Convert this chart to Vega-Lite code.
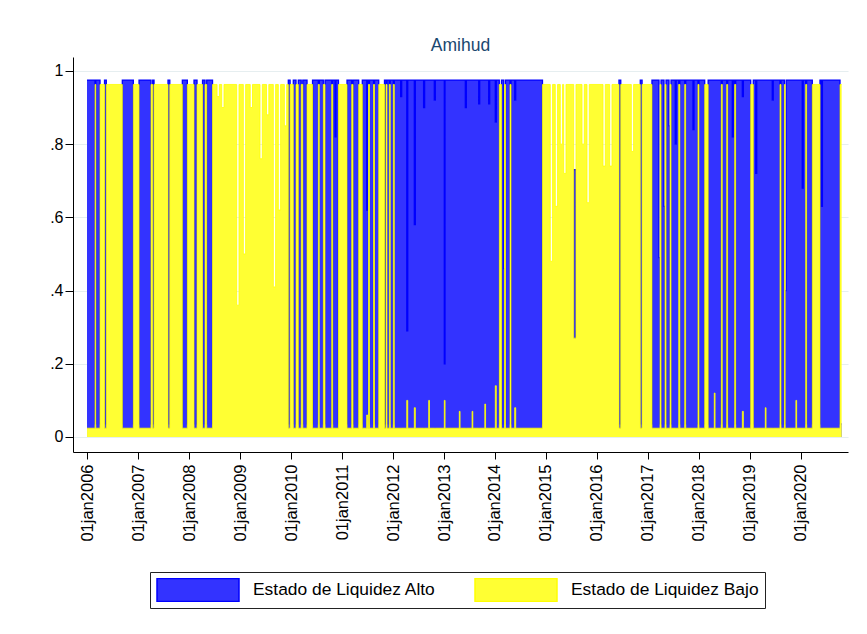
{
  "$schema": "https://vega.github.io/schema/vega-lite/v6.json",
  "autosize": "none",
  "width": 775,
  "height": 395,
  "padding": {"left": 73, "top": 57, "right": 19, "bottom": 182},
  "background": "white",
  "config": {
    "view": {"stroke": null},
    "font": "Liberation Sans"
  },
  "title": {"text": "Amihud", "fontSize": 17.5, "font": "Liberation Sans", "fontWeight": "normal", "color": "#1a476f", "anchor": "middle", "offset": 3},
  "data": {"values": [
    {"fecha": 2006.000, "alto": 0.975, "bajo": 0.024},
    {"fecha": 2006.157, "alto": 0.036, "bajo": 0.963},
    {"fecha": 2006.172, "alto": 0.975, "bajo": 0.024},
    {"fecha": 2006.255, "alto": 0.036, "bajo": 0.963},
    {"fecha": 2006.343, "alto": 0.975, "bajo": 0.024},
    {"fecha": 2006.378, "alto": 0.036, "bajo": 0.963},
    {"fecha": 2006.692, "alto": 0.975, "bajo": 0.024},
    {"fecha": 2006.908, "alto": 0.036, "bajo": 0.963},
    {"fecha": 2007.020, "alto": 0.975, "bajo": 0.024},
    {"fecha": 2007.255, "alto": 0.036, "bajo": 0.963},
    {"fecha": 2007.288, "alto": 0.975, "bajo": 0.024},
    {"fecha": 2007.314, "alto": 0.036, "bajo": 0.963},
    {"fecha": 2007.588, "alto": 0.975, "bajo": 0.024},
    {"fecha": 2007.623, "alto": 0.036, "bajo": 0.963},
    {"fecha": 2007.869, "alto": 0.975, "bajo": 0.024},
    {"fecha": 2007.967, "alto": 0.036, "bajo": 0.963},
    {"fecha": 2008.098, "alto": 0.975, "bajo": 0.024},
    {"fecha": 2008.157, "alto": 0.036, "bajo": 0.963},
    {"fecha": 2008.265, "alto": 0.975, "bajo": 0.024},
    {"fecha": 2008.314, "alto": 0.036, "bajo": 0.963},
    {"fecha": 2008.347, "alto": 0.975, "bajo": 0.024},
    {"fecha": 2008.461, "alto": 0.036, "bajo": 0.963},
    {"fecha": 2008.550, "alto": 0.036, "bajo": 0.93},
    {"fecha": 2008.595, "alto": 0.036, "bajo": 0.963},
    {"fecha": 2008.641, "alto": 0.036, "bajo": 0.90},
    {"fecha": 2008.686, "alto": 0.036, "bajo": 0.963},
    {"fecha": 2008.935, "alto": 0.036, "bajo": 0.36},
    {"fecha": 2008.980, "alto": 0.036, "bajo": 0.963},
    {"fecha": 2009.065, "alto": 0.036, "bajo": 0.50},
    {"fecha": 2009.110, "alto": 0.036, "bajo": 0.963},
    {"fecha": 2009.200, "alto": 0.036, "bajo": 0.90},
    {"fecha": 2009.245, "alto": 0.036, "bajo": 0.963},
    {"fecha": 2009.392, "alto": 0.036, "bajo": 0.76},
    {"fecha": 2009.437, "alto": 0.036, "bajo": 0.963},
    {"fecha": 2009.520, "alto": 0.036, "bajo": 0.88},
    {"fecha": 2009.565, "alto": 0.036, "bajo": 0.963},
    {"fecha": 2009.653, "alto": 0.036, "bajo": 0.41},
    {"fecha": 2009.698, "alto": 0.036, "bajo": 0.963},
    {"fecha": 2009.751, "alto": 0.036, "bajo": 0.62},
    {"fecha": 2009.796, "alto": 0.036, "bajo": 0.963},
    {"fecha": 2009.870, "alto": 0.036, "bajo": 0.85},
    {"fecha": 2009.915, "alto": 0.036, "bajo": 0.963},
    {"fecha": 2009.947, "alto": 0.975, "bajo": 0.024},
    {"fecha": 2009.982, "alto": 0.036, "bajo": 0.963},
    {"fecha": 2010.045, "alto": 0.975, "bajo": 0.024},
    {"fecha": 2010.098, "alto": 0.036, "bajo": 0.963},
    {"fecha": 2010.143, "alto": 0.975, "bajo": 0.024},
    {"fecha": 2010.200, "alto": 0.036, "bajo": 0.963},
    {"fecha": 2010.231, "alto": 0.975, "bajo": 0.024},
    {"fecha": 2010.314, "alto": 0.036, "bajo": 0.963},
    {"fecha": 2010.422, "alto": 0.975, "bajo": 0.024},
    {"fecha": 2010.535, "alto": 0.036, "bajo": 0.963},
    {"fecha": 2010.555, "alto": 0.975, "bajo": 0.024},
    {"fecha": 2010.633, "alto": 0.036, "bajo": 0.963},
    {"fecha": 2010.667, "alto": 0.975, "bajo": 0.024},
    {"fecha": 2010.798, "alto": 0.036, "bajo": 0.963},
    {"fecha": 2010.818, "alto": 0.975, "bajo": 0.024},
    {"fecha": 2010.863, "alto": 0.82, "bajo": 0.024},
    {"fecha": 2010.883, "alto": 0.975, "bajo": 0.024},
    {"fecha": 2010.931, "alto": 0.036, "bajo": 0.963},
    {"fecha": 2011.098, "alto": 0.975, "bajo": 0.024},
    {"fecha": 2011.190, "alto": 0.036, "bajo": 0.963},
    {"fecha": 2011.216, "alto": 0.975, "bajo": 0.024},
    {"fecha": 2011.327, "alto": 0.036, "bajo": 0.963},
    {"fecha": 2011.398, "alto": 0.975, "bajo": 0.024},
    {"fecha": 2011.484, "alto": 0.62, "bajo": 0.06},
    {"fecha": 2011.504, "alto": 0.975, "bajo": 0.024},
    {"fecha": 2011.520, "alto": 0.036, "bajo": 0.963},
    {"fecha": 2011.540, "alto": 0.975, "bajo": 0.024},
    {"fecha": 2011.618, "alto": 0.036, "bajo": 0.963},
    {"fecha": 2011.638, "alto": 0.975, "bajo": 0.024},
    {"fecha": 2011.720, "alto": 0.036, "bajo": 0.963},
    {"fecha": 2011.833, "alto": 0.975, "bajo": 0.024},
    {"fecha": 2011.863, "alto": 0.036, "bajo": 0.963},
    {"fecha": 2011.883, "alto": 0.975, "bajo": 0.024},
    {"fecha": 2011.927, "alto": 0.036, "bajo": 0.963},
    {"fecha": 2011.947, "alto": 0.975, "bajo": 0.024},
    {"fecha": 2012.006, "alto": 0.036, "bajo": 0.963},
    {"fecha": 2012.026, "alto": 0.975, "bajo": 0.024},
    {"fecha": 2012.150, "alto": 0.93, "bajo": 0.024},
    {"fecha": 2012.170, "alto": 0.975, "bajo": 0.024},
    {"fecha": 2012.269, "alto": 0.29, "bajo": 0.10},
    {"fecha": 2012.289, "alto": 0.975, "bajo": 0.024},
    {"fecha": 2012.418, "alto": 0.58, "bajo": 0.08},
    {"fecha": 2012.438, "alto": 0.975, "bajo": 0.024},
    {"fecha": 2012.600, "alto": 0.90, "bajo": 0.024},
    {"fecha": 2012.620, "alto": 0.975, "bajo": 0.024},
    {"fecha": 2012.700, "alto": 0.975, "bajo": 0.10},
    {"fecha": 2012.715, "alto": 0.975, "bajo": 0.024},
    {"fecha": 2012.810, "alto": 0.92, "bajo": 0.024},
    {"fecha": 2012.830, "alto": 0.975, "bajo": 0.024},
    {"fecha": 2013.006, "alto": 0.20, "bajo": 0.10},
    {"fecha": 2013.021, "alto": 0.975, "bajo": 0.024},
    {"fecha": 2013.300, "alto": 0.975, "bajo": 0.07},
    {"fecha": 2013.315, "alto": 0.975, "bajo": 0.024},
    {"fecha": 2013.418, "alto": 0.90, "bajo": 0.024},
    {"fecha": 2013.438, "alto": 0.975, "bajo": 0.024},
    {"fecha": 2013.550, "alto": 0.975, "bajo": 0.07},
    {"fecha": 2013.565, "alto": 0.975, "bajo": 0.024},
    {"fecha": 2013.680, "alto": 0.91, "bajo": 0.024},
    {"fecha": 2013.700, "alto": 0.975, "bajo": 0.024},
    {"fecha": 2013.800, "alto": 0.975, "bajo": 0.09},
    {"fecha": 2013.815, "alto": 0.975, "bajo": 0.024},
    {"fecha": 2013.876, "alto": 0.91, "bajo": 0.024},
    {"fecha": 2013.896, "alto": 0.975, "bajo": 0.024},
    {"fecha": 2014.006, "alto": 0.86, "bajo": 0.14},
    {"fecha": 2014.026, "alto": 0.975, "bajo": 0.024},
    {"fecha": 2014.084, "alto": 0.036, "bajo": 0.963},
    {"fecha": 2014.127, "alto": 0.975, "bajo": 0.024},
    {"fecha": 2014.171, "alto": 0.46, "bajo": 0.024},
    {"fecha": 2014.186, "alto": 0.036, "bajo": 0.963},
    {"fecha": 2014.206, "alto": 0.975, "bajo": 0.024},
    {"fecha": 2014.294, "alto": 0.036, "bajo": 0.963},
    {"fecha": 2014.314, "alto": 0.975, "bajo": 0.024},
    {"fecha": 2014.386, "alto": 0.92, "bajo": 0.08},
    {"fecha": 2014.406, "alto": 0.975, "bajo": 0.024},
    {"fecha": 2014.931, "alto": 0.036, "bajo": 0.963},
    {"fecha": 2015.084, "alto": 0.036, "bajo": 0.48},
    {"fecha": 2015.129, "alto": 0.036, "bajo": 0.963},
    {"fecha": 2015.182, "alto": 0.036, "bajo": 0.63},
    {"fecha": 2015.227, "alto": 0.036, "bajo": 0.963},
    {"fecha": 2015.280, "alto": 0.036, "bajo": 0.80},
    {"fecha": 2015.325, "alto": 0.036, "bajo": 0.963},
    {"fecha": 2015.347, "alto": 0.036, "bajo": 0.72},
    {"fecha": 2015.392, "alto": 0.036, "bajo": 0.963},
    {"fecha": 2015.543, "alto": 0.73, "bajo": 0.27},
    {"fecha": 2015.588, "alto": 0.036, "bajo": 0.963},
    {"fecha": 2015.706, "alto": 0.036, "bajo": 0.80},
    {"fecha": 2015.751, "alto": 0.036, "bajo": 0.963},
    {"fecha": 2015.804, "alto": 0.036, "bajo": 0.64},
    {"fecha": 2015.849, "alto": 0.036, "bajo": 0.963},
    {"fecha": 2016.118, "alto": 0.036, "bajo": 0.74},
    {"fecha": 2016.163, "alto": 0.036, "bajo": 0.963},
    {"fecha": 2016.249, "alto": 0.036, "bajo": 0.74},
    {"fecha": 2016.294, "alto": 0.036, "bajo": 0.963},
    {"fecha": 2016.431, "alto": 0.975, "bajo": 0.024},
    {"fecha": 2016.466, "alto": 0.036, "bajo": 0.963},
    {"fecha": 2016.673, "alto": 0.036, "bajo": 0.78},
    {"fecha": 2016.718, "alto": 0.036, "bajo": 0.963},
    {"fecha": 2016.849, "alto": 0.975, "bajo": 0.024},
    {"fecha": 2016.884, "alto": 0.036, "bajo": 0.963},
    {"fecha": 2017.078, "alto": 0.975, "bajo": 0.024},
    {"fecha": 2017.216, "alto": 0.49, "bajo": 0.024},
    {"fecha": 2017.236, "alto": 0.036, "bajo": 0.963},
    {"fecha": 2017.256, "alto": 0.975, "bajo": 0.024},
    {"fecha": 2017.314, "alto": 0.63, "bajo": 0.024},
    {"fecha": 2017.334, "alto": 0.036, "bajo": 0.963},
    {"fecha": 2017.354, "alto": 0.975, "bajo": 0.024},
    {"fecha": 2017.412, "alto": 0.85, "bajo": 0.024},
    {"fecha": 2017.432, "alto": 0.036, "bajo": 0.963},
    {"fecha": 2017.452, "alto": 0.975, "bajo": 0.024},
    {"fecha": 2017.535, "alto": 0.80, "bajo": 0.024},
    {"fecha": 2017.555, "alto": 0.975, "bajo": 0.024},
    {"fecha": 2017.602, "alto": 0.036, "bajo": 0.963},
    {"fecha": 2017.625, "alto": 0.975, "bajo": 0.024},
    {"fecha": 2017.720, "alto": 0.036, "bajo": 0.963},
    {"fecha": 2017.740, "alto": 0.975, "bajo": 0.024},
    {"fecha": 2017.882, "alto": 0.84, "bajo": 0.024},
    {"fecha": 2017.902, "alto": 0.975, "bajo": 0.024},
    {"fecha": 2017.980, "alto": 0.036, "bajo": 0.963},
    {"fecha": 2018.000, "alto": 0.975, "bajo": 0.024},
    {"fecha": 2018.112, "alto": 0.036, "bajo": 0.963},
    {"fecha": 2018.180, "alto": 0.975, "bajo": 0.024},
    {"fecha": 2018.300, "alto": 0.975, "bajo": 0.12},
    {"fecha": 2018.315, "alto": 0.975, "bajo": 0.024},
    {"fecha": 2018.437, "alto": 0.036, "bajo": 0.963},
    {"fecha": 2018.457, "alto": 0.975, "bajo": 0.024},
    {"fecha": 2018.543, "alto": 0.036, "bajo": 0.963},
    {"fecha": 2018.563, "alto": 0.975, "bajo": 0.024},
    {"fecha": 2018.653, "alto": 0.82, "bajo": 0.024},
    {"fecha": 2018.673, "alto": 0.975, "bajo": 0.024},
    {"fecha": 2018.700, "alto": 0.036, "bajo": 0.963},
    {"fecha": 2018.720, "alto": 0.975, "bajo": 0.024},
    {"fecha": 2018.850, "alto": 0.93, "bajo": 0.07},
    {"fecha": 2018.870, "alto": 0.975, "bajo": 0.024},
    {"fecha": 2019.014, "alto": 0.036, "bajo": 0.963},
    {"fecha": 2019.065, "alto": 0.975, "bajo": 0.024},
    {"fecha": 2019.112, "alto": 0.72, "bajo": 0.024},
    {"fecha": 2019.132, "alto": 0.975, "bajo": 0.024},
    {"fecha": 2019.300, "alto": 0.975, "bajo": 0.08},
    {"fecha": 2019.315, "alto": 0.975, "bajo": 0.024},
    {"fecha": 2019.437, "alto": 0.92, "bajo": 0.024},
    {"fecha": 2019.457, "alto": 0.975, "bajo": 0.024},
    {"fecha": 2019.588, "alto": 0.036, "bajo": 0.963},
    {"fecha": 2019.608, "alto": 0.975, "bajo": 0.024},
    {"fecha": 2019.675, "alto": 0.036, "bajo": 0.963},
    {"fecha": 2019.690, "alto": 0.40, "bajo": 0.024},
    {"fecha": 2019.710, "alto": 0.975, "bajo": 0.024},
    {"fecha": 2019.900, "alto": 0.975, "bajo": 0.10},
    {"fecha": 2019.915, "alto": 0.975, "bajo": 0.024},
    {"fecha": 2020.025, "alto": 0.68, "bajo": 0.024},
    {"fecha": 2020.045, "alto": 0.975, "bajo": 0.024},
    {"fecha": 2020.092, "alto": 0.036, "bajo": 0.963},
    {"fecha": 2020.112, "alto": 0.975, "bajo": 0.024},
    {"fecha": 2020.222, "alto": 0.036, "bajo": 0.963},
    {"fecha": 2020.373, "alto": 0.975, "bajo": 0.024},
    {"fecha": 2020.400, "alto": 0.63, "bajo": 0.024},
    {"fecha": 2020.420, "alto": 0.975, "bajo": 0.024},
    {"fecha": 2020.765, "alto": 0.036, "bajo": 0.963},
    {"fecha": 2020.798, "alto": 0.036, "bajo": 0.963}
  ]},
  "encoding": {
    "x": {
      "field": "fecha", "type": "quantitative",
      "scale": {"domain": [2005.725, 2020.922], "nice": false, "zero": false},
      "axis": {
        "title": null, "grid": false,
        "values": [2006, 2007, 2008, 2009, 2010, 2011, 2012, 2013, 2014, 2015, 2016, 2017, 2018, 2019, 2020],
        "labelExpr": "'01jan' + datum.value",
        "labelAngle": -90, "labelAlign": "right", "labelBaseline": "middle",
        "labelFont": "Liberation Sans", "labelFontSize": 16.5, "labelColor": "#000",
        "labelPadding": 5, "tickSize": 7, "tickColor": "#000", "domainColor": "#000",
        "labelOverlap": false, "labelFlush": false
      }
    }
  },
  "layer": [
    {
      "mark": {"type": "area", "interpolate": "step-after", "opacity": 1},
      "encoding": {
        "y": {
          "field": "alto", "type": "quantitative",
          "scale": {"domain": [-0.041, 1.038], "nice": false, "zero": false},
          "axis": {
            "title": null, "values": [0, 0.2, 0.4, 0.6, 0.8, 1],
            "labelExpr": "datum.value == 0 ? '0' : datum.value == 1 ? '1' : '.' + round(datum.value * 10)",
            "labelFont": "Liberation Sans", "labelFontSize": 16, "labelColor": "#000",
            "labelPadding": 2, "tickSize": 8, "tickColor": "#000", "domainColor": "#000",
            "grid": true, "gridColor": "#e6eef0", "gridWidth": 1.2
          }
        },
        "y2": {"datum": 0},
        "color": {
          "datum": "Estado de Liquidez Alto", "type": "nominal",
          "scale": {"domain": ["Estado de Liquidez Alto", "Estado de Liquidez Bajo"], "range": ["#3333ff", "#ffff33"]},
          "legend": {
            "orient": "none", "legendX": 77, "legendY": 515, "direction": "horizontal",
            "title": null,
            "symbolType": "M-1,-0.28L1,-0.28L1,0.28L-1,0.28Z", "symbolSize": 6724,
            "symbolStrokeWidth": 1.5, "symbolOpacity": 1,
            "labelFont": "Liberation Sans", "labelFontSize": 17.4, "labelColor": "#000",
            "labelOffset": 13, "labelLimit": 400, "columnPadding": 38,
            "clipHeight": 24, "padding": 6, "strokeColor": "#222", "cornerRadius": 0,
            "symbolStrokeColor": "#0000ff",
            "encode": {"symbols": {"update": {"stroke": {"signal": "datum.value === 'Estado de Liquidez Alto' ? '#0000ff' : '#ffff00'"}}}}
          }
        }
      }
    },
    {
      "mark": {"type": "line", "interpolate": "step-after", "color": "#0000ff", "strokeWidth": 1.3},
      "encoding": {"y": {"field": "alto", "type": "quantitative"}}
    },
    {
      "mark": {"type": "area", "interpolate": "step-after", "opacity": 1},
      "encoding": {
        "y": {"field": "bajo", "type": "quantitative"},
        "y2": {"datum": 0},
        "color": {"datum": "Estado de Liquidez Bajo", "type": "nominal"}
      }
    },
    {
      "mark": {"type": "line", "interpolate": "step-after", "color": "#ffff00", "strokeWidth": 0.8},
      "encoding": {"y": {"field": "bajo", "type": "quantitative"}}
    }
  ]
}
